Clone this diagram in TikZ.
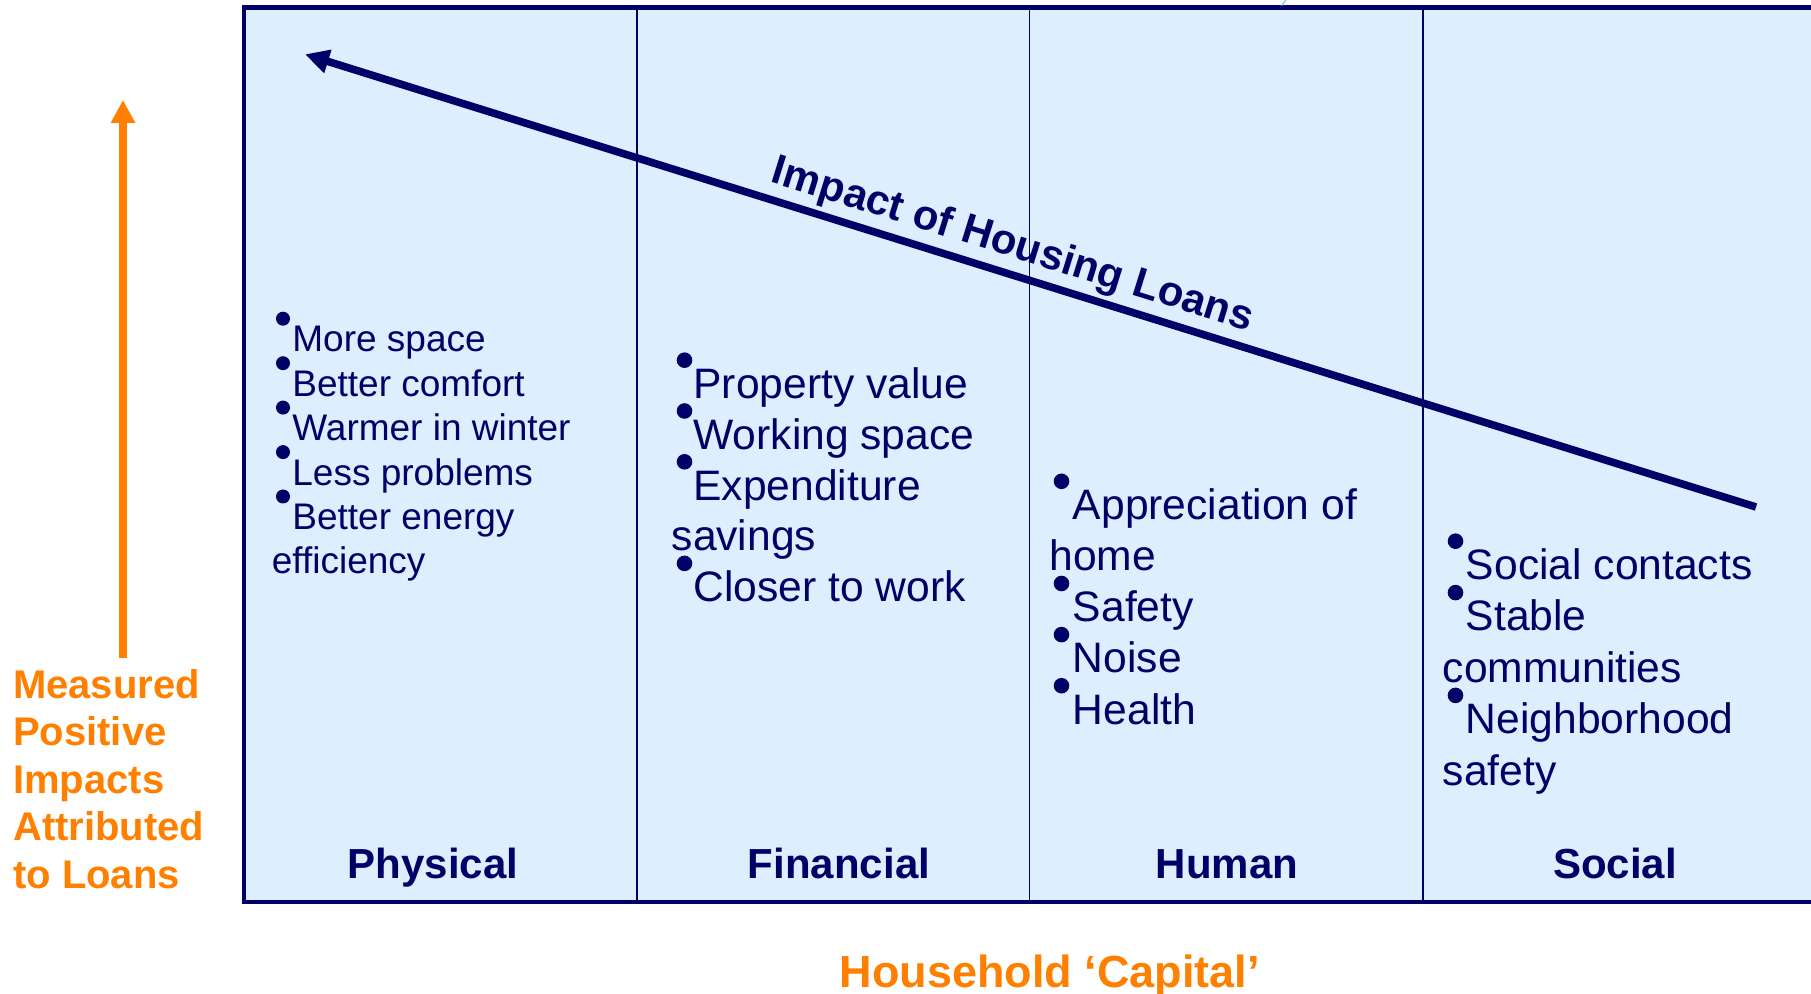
\documentclass[tikz,border=0pt]{standalone}
\usepackage{fontspec}
\setmainfont{Liberation Sans}
\usetikzlibrary{arrows.meta}
\definecolor{navy}{RGB}{0,0,102}
\definecolor{paleblue}{RGB}{221,239,255}
\definecolor{orng}{RGB}{255,128,0}
\definecolor{faint}{RGB}{150,200,230}
\begin{document}
\begin{tikzpicture}[x=0.5pt,y=-0.5pt,
  itemA/.style={anchor=base west,inner sep=0pt,text=navy,font=\fontsize{18.5}{22.2}\selectfont},
  itemB/.style={anchor=base west,inner sep=0pt,text=navy,font=\fontsize{21.3}{25.6}\selectfont},
  head/.style={anchor=base,inner sep=0pt,text=navy,font=\bfseries\fontsize{21}{25}\selectfont},
  olabel/.style={anchor=base west,inner sep=0pt,text=orng,font=\bfseries\fontsize{20}{24}\selectfont},
  bulA/.style={fill=navy},
  divider/.style={draw=navy,line width=0.8pt},
  frame/.style={draw=navy,line width=2.2pt}]
\useasboundingbox (0,0) rectangle (1811,994);
\clip (0,0) rectangle (1811,994);

% panel
\fill[paleblue] (243.7,7.5) rectangle (1830,901.7);
\draw[divider] (637,7.5) -- (637,901.7);
\draw[divider] (1029.3,7.5) -- (1029.3,901.7);
\draw[divider] (1423,7.5) -- (1423,901.7);
\draw[frame] (243.7,7.5) rectangle (1830,901.7);
\draw[faint,line width=0.6pt] (1281.5,5.5) -- (1286,0);

% main arrow
\coordinate (astart) at (1756,507);
\coordinate (atip) at (305,54.3);
\draw[navy,line width=3.8pt,-{Triangle[length=12pt,width=11.5pt]}] (astart) -- (atip);
\node[anchor=base,inner sep=0pt,text=navy,rotate=-17.3,font=\bfseries\fontsize{21}{25}\selectfont] (impact) at (1009.2,256.4) {Impact of Housing Loans};

% orange vertical arrow
\coordinate (ostart) at (123,658);
\coordinate (otip) at (123,100);
\draw[orng,line width=3.6pt,-{Triangle[length=11.5pt,width=11.5pt]}] (ostart) -- (otip);
\node[olabel] (o1) at (12.8,698.3) {Measured};
\node[olabel] (o2) at (12.8,745.8) {Positive};
\node[olabel] (o3) at (12.8,793.3) {Impacts};
\node[olabel] (o4) at (12.8,840.8) {Attributed};
\node[olabel] (o5) at (12.8,888.3) {to Loans};

% column 1: Physical
\foreach \y in {318.7,363.2,407.6,452.1,496.5} \fill[bulA] (283,\y) circle[radius=7];
\node[itemA] (p1) at (292,351.7) {More space};
\node[itemA] (p2) at (292,396.2) {Better comfort};
\node[itemA] (p3) at (292,440.6) {Warmer in winter};
\node[itemA] (p4) at (292,485.1) {Less problems};
\node[itemA] (p5) at (292,529.5) {Better energy};
\node[itemA] (p6) at (271.5,574.0) {efficiency};

% column 2: Financial
\foreach \y in {360.2,411,461.8,563.4} \fill[bulA] (684.5,\y) circle[radius=7.8];
\node[itemB] (f1) at (693,398.5) {Property value};
\node[itemB] (f2) at (693,449.3) {Working space};
\node[itemB] (f3) at (693,500.1) {Expenditure};
\node[itemB] (f4) at (671.3,550.9) {savings};
\node[itemB] (f5) at (693,601.7) {Closer to work};

% column 3: Human
\foreach \y in {481.3,583.5,634.6,685.7} \fill[bulA] (1061.5,\y) circle[radius=7.8];
\node[itemB] (h1) at (1072.5,519.6) {Appreciation of};
\node[itemB] (h2) at (1049,570.7) {home};
\node[itemB] (h3) at (1072.5,621.8) {Safety};
\node[itemB] (h4) at (1072.5,672.9) {Noise};
\node[itemB] (h5) at (1072.5,724.0) {Health};

% column 4: Social
\foreach \y in {541.2,592.6,695.4} \fill[bulA] (1455.5,\y) circle[radius=7.8];
\node[itemB] (s1) at (1465.5,579.5) {Social contacts};
\node[itemB] (s2) at (1465.5,630.9) {Stable};
\node[itemB] (s3) at (1442.5,682.3) {communities};
\node[itemB] (s4) at (1465.5,733.7) {Neighborhood};
\node[itemB] (s5) at (1442.5,785.1) {safety};

% headers
\node[head] (hphys) at (433,878) {Physical};
\node[head] (hfin) at (839,878) {Financial};
\node[head] (hhum) at (1227,878) {Human};
\node[head] (hsoc) at (1615,878) {Social};

% bottom label
\node[anchor=base,inner sep=0pt,text=orng,font=\bfseries\fontsize{22.5}{27}\selectfont] (capital) at (1049.7,987.5) {Household ‘Capital’};
\end{tikzpicture}
\end{document}
